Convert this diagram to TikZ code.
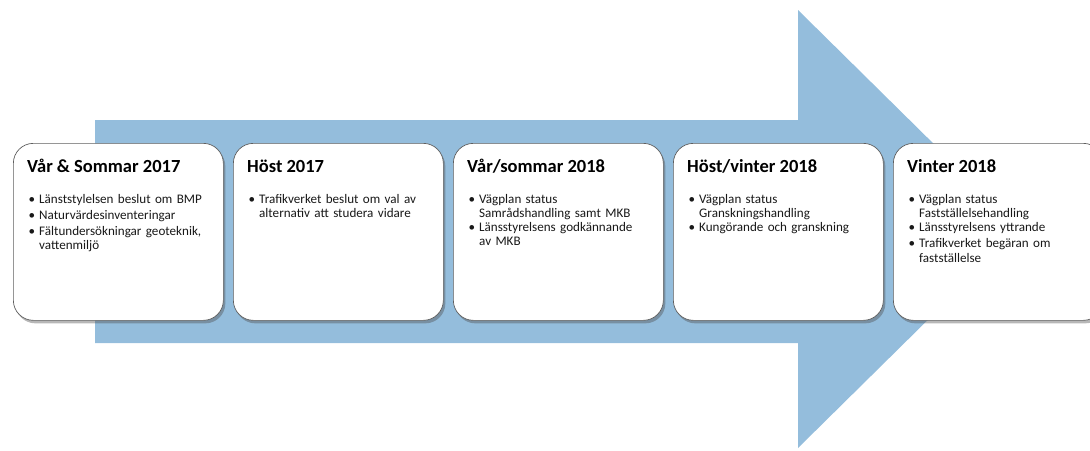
\documentclass[tikz,border=0pt]{standalone}
\usepackage{fontspec}
\setmainfont{Carlito}
\usetikzlibrary{shadows}

\definecolor{arrowblue}{RGB}{148,189,220}
\definecolor{cardline}{RGB}{95,95,95}
\definecolor{bodytext}{RGB}{25,25,25}

% one bullet item: bullet plus a top-aligned box for its (manually broken) lines
\newcommand{\bulletline}[1]{\par\noindent\makebox[12pt][l]{\hspace{1.5pt}\textbullet}\parbox[t]{175pt}{\raggedright #1}}

\begin{document}
\begin{tikzpicture}[x=1pt,y=-1pt,
  card/.style={draw=cardline, line width=0.7pt, fill=white, rounded corners=20pt,
    minimum width=210pt, minimum height=177pt, anchor=north west, inner sep=0pt,
    drop shadow={shadow xshift=2pt, shadow yshift=-3pt, opacity=0.4, fill=black!70}},
  cardtitle/.style={anchor=base west, inner sep=0pt, font=\fontsize{18.5}{21}\selectfont\bfseries},
  cardlist/.style={anchor=north west, inner sep=0pt, text width=190pt, align=left,
    text=bodytext, font=\fontsize{13.1}{14.3}\selectfont\setlength{\parskip}{2pt}}
]
  \useasboundingbox (0,0) rectangle (1090,450);

  % large background arrow
  \fill[arrowblue] (95,120) -- (798,120) -- (798,10) -- (1020,229) -- (798,448)
    -- (798,343) -- (95,343) -- cycle;

  % phase cards
  \node[card] (c1) at (13,143) {};
  \node[card] (c2) at (233,143) {};
  \node[card] (c3) at (453,143) {};
  \node[card] (c4) at (673,143) {};
  \node[card] (c5) at (893,143) {};

  % titles
  \node[cardtitle] (t1) at (27,172) {Vår \& Sommar 2017};
  \node[cardtitle] (t2) at (247,172) {Höst 2017};
  \node[cardtitle] (t3) at (467,172) {Vår/sommar 2018};
  \node[cardtitle] (t4) at (687,172) {Höst/vinter 2018};
  \node[cardtitle] (t5) at (907,172) {Vinter 2018};

  % bullet lists (top edge placed so that the first baseline sits at y = 197)
  \node[cardlist] (l1) at (27,186.5) {%
    \bulletline{Länststylelsen beslut om BMP}
    \bulletline{Naturvärdesinventeringar}
    \bulletline{Fältundersökningar geoteknik,\\vattenmiljö}};
  \node[cardlist] (l2) at (247,186.5) {%
    \bulletline{Trafikverket beslut om val av\\alternativ att studera vidare}};
  \node[cardlist] (l3) at (467,186.5) {%
    \bulletline{Vägplan status\\Samrådshandling samt MKB}
    \bulletline{Länsstyrelsens godkännande\\av MKB}};
  \node[cardlist] (l4) at (687,186.5) {%
    \bulletline{Vägplan status\\Granskningshandling}
    \bulletline{Kungörande och granskning}};
  \node[cardlist] (l5) at (907,186.5) {%
    \bulletline{Vägplan status\\Fastställelsehandling}
    \bulletline{Länsstyrelsens yttrande}
    \bulletline{Trafikverket begäran om\\fastställelse}};
\end{tikzpicture}
\end{document}
